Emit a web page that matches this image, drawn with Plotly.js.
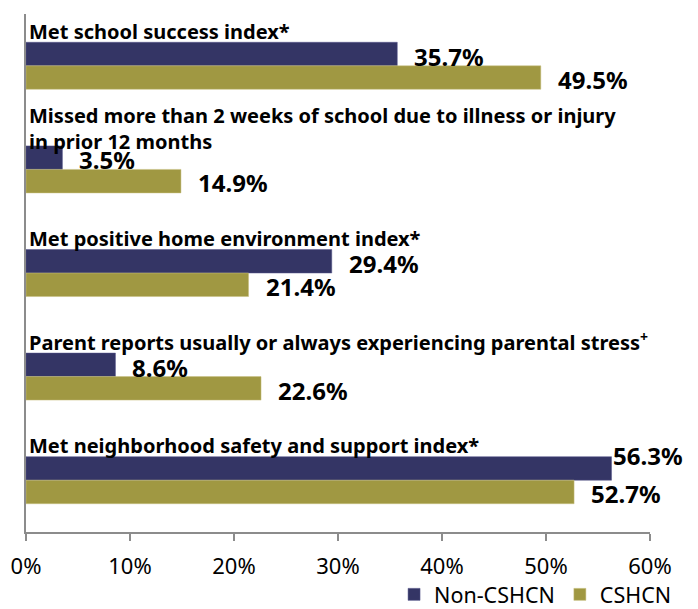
<!DOCTYPE html>
<html>
<head>
<meta charset="utf-8">
<script src="https://cdn.plot.ly/plotly-3.0.1.min.js"></script>
<style>html,body{margin:0;padding:0;background:#fff;}#chart{width:698px;height:609px;}</style>
</head>
<body>
<div id="chart"></div>
<script>
const categories = [
  "Met school success index*",
  "Missed more than 2 weeks of school due to illness or injury<br>in prior 12 months",
  "Met positive home environment index*",
  "Parent reports usually or always experiencing parental stress<sup>+</sup>",
  "Met neighborhood safety and support index*"
];
const catKeys = ["c1","c2","c3","c4","c5"];
const nonCSHCN = [35.7, 3.5, 29.4, 8.6, 56.3];
const cshcn = [49.5, 14.9, 21.4, 22.6, 52.7];
const seriesNames = ["Non-CSHCN", "CSHCN"];
const tickVals = [0, 10, 20, 30, 40, 50, 60];
const tickText = ["0%", "10%", "20%", "30%", "40%", "50%", "60%"];

const NAVY = "#343565";
const OLIVE = "#a09842";
const FONT = "Noto Sans, Open Sans, sans-serif";

const traces = [
  {type:"bar", orientation:"h", name:seriesNames[0], x:nonCSHCN, y:catKeys,
   marker:{color:NAVY, line:{color:"#55558a", width:0.5}}, hoverinfo:"none"},
  {type:"bar", orientation:"h", name:seriesNames[1], x:cshcn, y:catKeys,
   marker:{color:OLIVE, line:{color:"#c8c080", width:0.5}}, hoverinfo:"none"}
];

const annotations = [];
// category labels above each group
categories.forEach((c, i) => {
  const lines = c.split("<br>").length;
  annotations.push({
    xref:"paper", x:0, xanchor:"left", xshift:1,
    yref:"y", y:catKeys[i], yanchor:"bottom", yshift:19 - 7*(lines-1),
    text:"<b>"+c+"</b>", showarrow:false, align:"left",
    font:{family:FONT, size:20, color:"#000"}
  });
});
// value labels
function valueLabel(v, i, series) {
  const big = v > 55;
  annotations.push({
    xref:"x", x:v, xanchor:"left", xshift: big ? -1 : 15,
    yref:"y", y:catKeys[i], yanchor:"middle",
    yshift: (series === 0 ? 11.5 : -11.5) - 2 + (big ? 15 : 0),
    text:"<b>"+v.toFixed(1)+"%</b>", showarrow:false,
    font:{family:FONT, size:24, color:"#000"}
  });
}
nonCSHCN.forEach((v,i)=>valueLabel(v,i,0));
cshcn.forEach((v,i)=>valueLabel(v,i,1));

const layout = {
  width:698, height:609,
  margin:{l:26, r:48, t:14, b:77},
  paper_bgcolor:"#fff", plot_bgcolor:"#fff",
  barmode:"group", bargap:0.546, bargroupgap:0,
  font:{family:FONT, color:"#000"},
  xaxis:{range:[0,60], tickvals:tickVals, ticktext:tickText, automargin:false,
    showgrid:false, zeroline:false, showline:true, linecolor:"#8c8c8c", linewidth:2,
    ticks:"outside", ticklen:7, tickwidth:2, tickcolor:"#8c8c8c",
    ticklabelstandoff:7, tickfont:{family:FONT, size:22, color:"#000"}, fixedrange:true},
  yaxis:{type:"category", autorange:"reversed", showticklabels:false, ticks:"", automargin:false,
    showgrid:false, zeroline:false, showline:true, linecolor:"#8c8c8c", linewidth:2,
    fixedrange:true},
  showlegend:true,
  legend:{orientation:"h", xref:"container", yref:"container",
    x:0.97, xanchor:"right", y:0.024, yanchor:"middle",
    font:{family:FONT, size:21.5, color:"#000"}, traceorder:"normal",
    itemwidth:30, tracegroupgap:0},
  annotations:annotations
};

Plotly.newPlot("chart", traces, layout, {displayModeBar:false, staticPlot:true});
</script>
</body>
</html>
